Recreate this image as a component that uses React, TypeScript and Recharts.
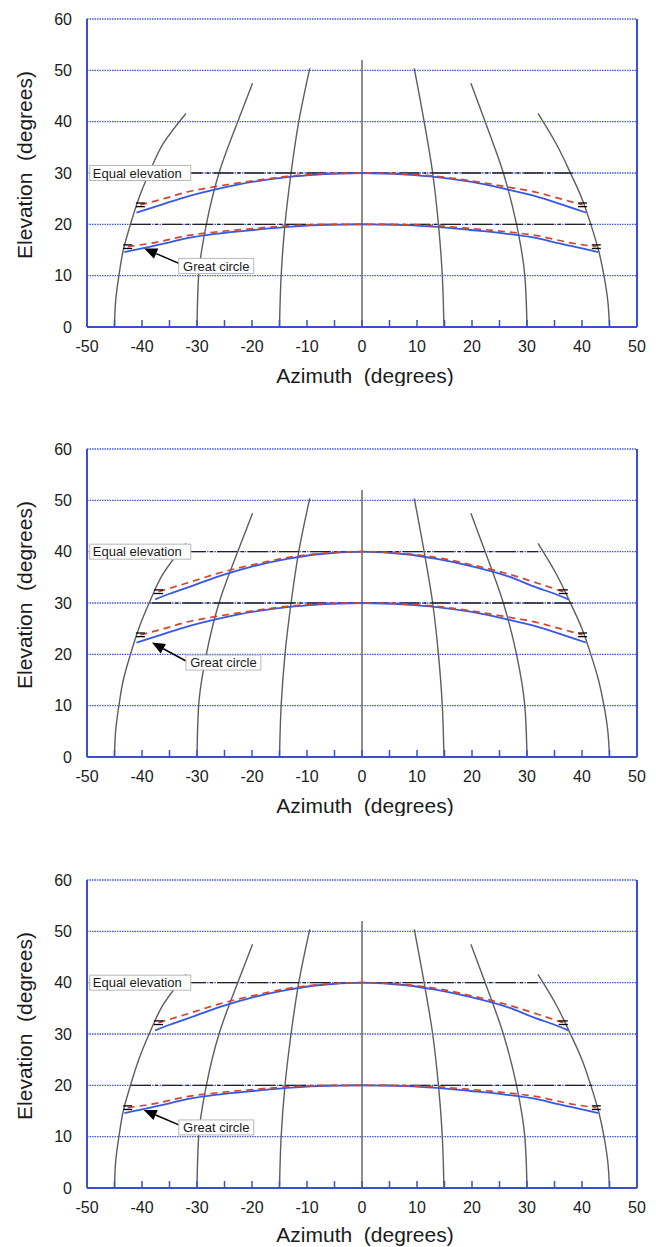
import React from "react";
import { ComposedChart, Line, XAxis, YAxis, CartesianGrid, ReferenceLine, ReferenceDot } from "recharts";

// axis ticks
const azTicks = [-50, -45, -40, -35, -30, -25, -20, -15, -10, -5, 0, 5, 10, 15, 20, 25, 30, 35, 40, 45, 50];
const elTicks = [0, 10, 20, 30, 40, 50, 60];

// meridian curves [azimuth, elevation]
const merid0 = [[0, 0], [0, 52]];
const meridL15 = [[-15, 0], [-14.7, 10], [-14, 20], [-12.9, 30], [-11.5, 40], [-9.5, 50.4]];
const meridR15 = [[14.9, 0], [14.6, 10], [13.9, 20], [12.85, 30], [11.3, 40], [9.5, 50.4]];
const meridL30 = [[-30, 0], [-29.7, 10], [-28.3, 20], [-26, 30], [-22.6, 40], [-19.9, 47.5]];
const meridR30 = [[30, 0], [29.6, 10], [28.1, 20], [25.7, 30], [22.4, 40], [19.8, 47.5]];
const meridL45 = [[-45, 0], [-44.8, 5], [-44.2, 10], [-43.4, 15], [-42.1, 20], [-40.6, 25], [-38.7, 30], [-36.1, 35.8], [-32, 41.6]];
const meridR45 = [[45, 0], [44.7, 5], [44.0, 10], [43.0, 15], [41.6, 20], [40.0, 25], [37.9, 30], [35.4, 35.5], [32, 41.6]];

// great circle (blue) and equal-elevation approximation (red dashed)
const great20 = [[-43.2, 14.6], [-40, 15.3], [-37.9, 15.8], [-35, 16.5], [-31.8, 17.3], [-25.8, 18.25], [-19.7, 18.9], [-13.6, 19.5], [-8, 19.85], [0, 20], [8, 19.85], [13.6, 19.5], [19.7, 18.9], [26, 18.2], [31.8, 17.3], [35.4, 16.4], [38, 15.8], [40, 15.3], [42.9, 14.6]];
const red20 = [[-42.6, 15.65], [-37.9, 16.4], [-31.8, 17.8], [-25.8, 18.6], [-19.7, 19.2], [-13.6, 19.7], [-7, 19.95], [0, 20], [7, 19.95], [13.6, 19.7], [19.7, 19.2], [25.8, 18.6], [31.8, 17.8], [37.9, 16.4], [42.6, 15.65]];
const great30 = [[-41, 22.3], [-36, 24.0], [-31.8, 25.4], [-25.8, 27.0], [-19.7, 28.3], [-13.6, 29.2], [-8, 29.7], [0, 30], [8, 29.7], [13.6, 29.2], [19.7, 28.3], [26, 26.9], [31.8, 25.4], [35.4, 24.2], [40.7, 22.3]];
const red30 = [[-40.3, 23.8], [-36, 25.0], [-31.8, 26.3], [-25.8, 27.5], [-19.7, 28.5], [-13.6, 29.35], [-8, 29.8], [0, 30], [8, 29.8], [13.6, 29.35], [19.7, 28.5], [25.8, 27.4], [31.8, 26.2], [36, 25.0], [40.1, 23.8]];
const great40 = [[-37.6, 30.7], [-35, 31.8], [-31.8, 33.0], [-25.8, 35.3], [-19.7, 37.2], [-13.6, 38.6], [-8, 39.5], [0, 40], [8, 39.5], [13.6, 38.6], [20.2, 37.1], [26.3, 35.3], [31.8, 33.0], [35, 31.8], [37.5, 30.7]];
const red40 = [[-37.0, 32.2], [-31.8, 33.9], [-25.8, 35.9], [-19.7, 37.5], [-13.6, 38.85], [-8, 39.6], [0, 40], [8, 39.6], [13.6, 38.85], [19.7, 37.5], [25.8, 35.9], [31.8, 33.9], [36.6, 32.2]];

// equal elevation reference lines
const equal20 = [[-42, 20], [42, 20]];
const equal30 = [[-38.3, 30], [38.3, 30]];
const equal40 = [[-32, 40], [32, 40]];

const BLUE_AXIS = "#3a4fd0";
const GRID = "#4258e6";
const GRAY = "#5e5e5e";
const BLUE = "#3658e6";
const RED = "#d4452c";
const INK = "#1b1b1b";
const FONT = "'Liberation Sans', Arial, Helvetica, sans-serif";
const TICK_SIZE = 8;
const TICK_MARGIN = 6;

const pts = (rows: number[][]) => rows.map(([az, el]) => ({ az, el }));

const curves: Record<number, { great: number[][]; red: number[][]; equal: number[][] }> = {
    20: { great: great20, red: red20, equal: equal20 },
    30: { great: great30, red: red30, equal: equal30 },
    40: { great: great40, red: red40, equal: equal40 },
};

const panels = [
    { top: 0, labelGap: 56, levels: [30, 20], eqLabel: 30, gcBox: [-26.5, 11.9], arrow: [[-33.3, 12.4], [-39.6, 15.3]] },
    { top: 430, labelGap: 56, levels: [40, 30], eqLabel: 40, gcBox: [-25.2, 18.4], arrow: [[-32, 18.7], [-38.2, 22.3]] },
    { top: 861, labelGap: 54, levels: [40, 20], eqLabel: 40, gcBox: [-26.5, 11.8], arrow: [[-33.3, 12.3], [-39.7, 15.2]] },
];

const AzTick = (props: any) => {
    const { x, y, payload } = props;
    const v = payload.value;
    const base = y - TICK_SIZE - TICK_MARGIN;
    return (
        <g>
            {Math.abs(v) < 50 && <line x1={x} x2={x} y1={base} y2={base - 7} stroke={BLUE_AXIS} strokeWidth={1.5} />}
            {v % 10 === 0 && (
                <text x={x} y={y} dy="0.71em" textAnchor="middle" fontSize={16} fontFamily={FONT} fill={INK}>{v}</text>
            )}
        </g>
    );
};

const ElTick = (props: any) => {
    const { x, y, payload } = props;
    return (
        <text x={x} y={y} dy="0.355em" textAnchor="end" fontSize={16} fontFamily={FONT} fill={INK}>{payload.value}</text>
    );
};

// "=" marks at the ends of the red dashed curves
const endMark = (len: number) => (p: any) => {
    const { cx, cy, index } = p;
    if (index !== 0 && index !== len - 1) return <g key={`d${index}`} />;
    return (
        <g key={`d${index}`}>
            <line x1={cx - 4.5} x2={cx + 4.5} y1={cy - 1.8} y2={cy - 1.8} stroke="#000" strokeWidth={1.3} />
            <line x1={cx - 4.5} x2={cx + 4.5} y1={cy + 1.8} y2={cy + 1.8} stroke="#000" strokeWidth={1.3} />
        </g>
    );
};

const EqualBox = (p: any) => (
    <g>
        <rect x={p.cx} y={p.cy - 7.5} width={101} height={15} fill="#fff" stroke="#b8b8b8" strokeWidth={1} />
        <text x={p.cx + 3} y={p.cy} dy="0.36em" fontSize={13} fontFamily={FONT} fill={INK}>Equal elevation</text>
    </g>
);

const GreatBox = (p: any) => (
    <g>
        <rect x={p.cx - 37.5} y={p.cy - 7.5} width={75} height={15} fill="#fff" stroke="#b8b8b8" strokeWidth={1} />
        <text x={p.cx} y={p.cy} dy="0.36em" textAnchor="middle" fontSize={13} fontFamily={FONT} fill={INK}>Great circle</text>
    </g>
);

const Arrow = (p: any) => {
    const { x1, y1, x2, y2 } = p;
    const ang = Math.atan2(y2 - y1, x2 - x1);
    const L = 13, W = 5.5;
    const bx = x2 - L * Math.cos(ang), by = y2 - L * Math.sin(ang);
    const nx = -Math.sin(ang) * W, ny = Math.cos(ang) * W;
    return (
        <g>
            <line x1={x1} y1={y1} x2={bx} y2={by} stroke="#000" strokeWidth={1.5} />
            <polygon points={`${x2},${y2} ${bx + nx},${by + ny} ${bx - nx},${by - ny}`} fill="#000" />
        </g>
    );
};

function Panel({ cfg }: { cfg: (typeof panels)[number] }) {
    const meridians = [meridL45, meridL30, meridL15, merid0, meridR15, meridR30, meridR45];
    return (
        <div style={{ position: "absolute", left: 0, top: cfg.top }}>
            <ComposedChart width={656} height={386} margin={{ top: 19, right: 19, left: 27, bottom: 0 }}>
                <CartesianGrid vertical={false} stroke={GRID} strokeDasharray="1.5 1" strokeWidth={1.3} />
                <XAxis
                    type="number" dataKey="az" domain={[-50, 50]} ticks={azTicks} interval={0}
                    allowDataOverflow height={59} tickSize={TICK_SIZE} tickMargin={TICK_MARGIN} tickLine={false}
                    axisLine={{ stroke: BLUE_AXIS, strokeWidth: 2 }} tick={<AzTick />}
                    label={{
                        content: (lp: any) => (
                            <text x={lp.viewBox.x + lp.viewBox.width / 2 + 3} y={lp.viewBox.y + cfg.labelGap} textAnchor="middle"
                                fontSize={21} fontFamily={FONT} fill={INK} style={{ whiteSpace: "pre" }}>Azimuth  (degrees)</text>
                        ),
                    }}
                />
                <YAxis
                    type="number" domain={[0, 60]} ticks={elTicks} interval={0} allowDataOverflow width={60}
                    tickSize={6} tickMargin={9} tickLine={false} axisLine={{ stroke: BLUE_AXIS, strokeWidth: 2 }} tick={<ElTick />}
                    label={{
                        content: (lp: any) => {
                            const cx = 24, cy = lp.viewBox.y + lp.viewBox.height / 2 - 8;
                            return (
                                <text x={cx} y={cy} transform={`rotate(-90, ${cx}, ${cy})`} dy="0.36em" textAnchor="middle"
                                    fontSize={21} fontFamily={FONT} fill={INK} style={{ whiteSpace: "pre" }}>Elevation  (degrees)</text>
                            );
                        },
                    }}
                />
                <ReferenceLine x={50} stroke={BLUE_AXIS} strokeWidth={2} />

                {meridians.map((m, i) => (
                    <Line key={`m${i}`} data={pts(m)} dataKey="el" type="monotoneY" stroke={GRAY} strokeWidth={1.4}
                        dot={false} isAnimationActive={false} />
                ))}
                {cfg.levels.map((lv) => (
                    <Line key={`e${lv}`} data={pts(curves[lv].equal)} dataKey="el" type="linear" stroke="#222"
                        strokeWidth={1.3} strokeDasharray="20 4 3 4" dot={false} isAnimationActive={false} />
                ))}
                {cfg.levels.map((lv) => (
                    <Line key={`g${lv}`} data={pts(curves[lv].great)} dataKey="el" type="monotone" stroke={BLUE}
                        strokeWidth={1.8} dot={false} isAnimationActive={false} />
                ))}
                {cfg.levels.map((lv) => (
                    <Line key={`r${lv}`} data={pts(curves[lv].red)} dataKey="el" type="monotone" stroke={RED}
                        strokeWidth={1.7} strokeDasharray="7 5" dot={endMark(curves[lv].red.length)} isAnimationActive={false} />
                ))}

                <ReferenceDot x={-49.5} y={cfg.eqLabel} r={0} shape={<EqualBox />} />
                <ReferenceLine segment={[{ x: cfg.arrow[0][0], y: cfg.arrow[0][1] }, { x: cfg.arrow[1][0], y: cfg.arrow[1][1] }]}
                    shape={<Arrow />} />
                <ReferenceDot x={cfg.gcBox[0]} y={cfg.gcBox[1]} r={0} shape={<GreatBox />} />
            </ComposedChart>
        </div>
    );
}

export default function App() {
    return (
        <div style={{ position: "absolute", left: 0, top: 0, width: 656, height: 1247, background: "#fff" }}>
            {panels.map((p, i) => <Panel key={i} cfg={p} />)}
        </div>
    );
}
